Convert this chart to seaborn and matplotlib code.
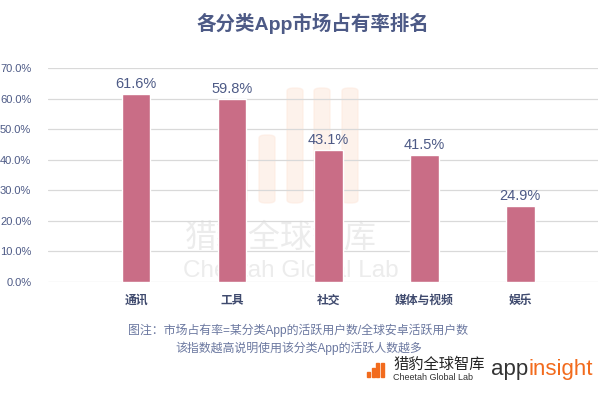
import matplotlib
matplotlib.use('Agg')
import matplotlib.pyplot as plt
import seaborn as sns
import pandas as pd
from matplotlib.patches import FancyBboxPatch

# data
categories = ['通讯', '工具', '社交', '媒体与视频', '娱乐']
share = [61.6, 59.8, 43.1, 41.5, 24.9]
yticks = [0, 10, 20, 30, 40, 50, 60, 70]

df = pd.DataFrame({'cat': categories, 'share': share})

sns.set_theme(style='white')
plt.rcParams['font.family'] = ['Liberation Sans', 'Noto Sans CJK SC', 'DejaVu Sans']

text_col = '#4d5a86'
bar_col = '#c96d86'

fig = plt.figure(figsize=(6, 3.93), dpi=100)
ax = fig.add_axes([0.08, 0.2824, 0.917, 0.5446])
ax.set_zorder(1)
ax.patch.set_alpha(0)

# faint watermark behind the bars
for x0, top in [(231, 160), (259, 135), (287, 88), (314, 88), (342, 88)]:
    fig.patches.append(FancyBboxPatch((x0 / 600, 1 - 203 / 393), 16 / 600, (203 - top) / 393,
                                      boxstyle='round,pad=0,rounding_size=0.012',
                                      mutation_aspect=0.65,
                                      transform=fig.transFigure, color='#fdeadf',
                                      alpha=0.6, zorder=-1))
fig.text(185 / 600, 1 - 239 / 393, '猎豹全球智库', fontsize=23, color='#ececec',
         va='center', ha='left', zorder=-1)
fig.text(183 / 600, 1 - 271 / 393, 'Cheetah Global Lab', fontsize=17.5, color='#ececec',
         va='center', ha='left', zorder=-1)

sns.barplot(data=df, x='cat', y='share', color=bar_col, width=0.3,
            saturation=1, ax=ax, zorder=3)
ax.bar_label(ax.containers[0], fmt='%.1f%%', padding=2, color=text_col, fontsize=10.5)

ax.set_xlim(-0.917, 4.8125)
ax.set_ylim(0, 70)
ax.set_yticks(yticks)
ax.set_yticklabels([f'{v:.1f}%' for v in yticks], color=text_col, fontsize=8)
ax.yaxis.grid(True, color='#d9d9d9', linewidth=0.9, zorder=0)
ax.tick_params(axis='y', length=0, pad=12)
ax.tick_params(axis='x', length=0, pad=9)
for lab in ax.get_xticklabels():
    lab.set_fontweight('bold')
    lab.set_fontsize(8.5)
    lab.set_color('#3f4a6e')
ax.set_xlabel('')
ax.set_ylabel('')
for s in ax.spines.values():
    s.set_visible(False)

fig.text(312.5 / 600, 1 - 23 / 393, '各分类App市场占有率排名', fontsize=14, fontweight='bold',
         color=text_col, ha='center', va='center')

note_col = '#6b78a0'
fig.text(128 / 600, 1 - 330 / 393, '图注：市场占有率=某分类App的活跃用户数/全球安卓活跃用户数',
         fontsize=8.6, color=note_col, va='center')
fig.text(175 / 600, 1 - 348 / 393, '该指数越高说明使用该分类App的活跃人数越多',
         fontsize=8.6, color=note_col, va='center')

# footer logo
for i, h in enumerate([5, 9, 14, 14]):
    fig.patches.append(FancyBboxPatch(((367 + i * 4.5) / 600, 1 - 377 / 393), 3 / 600, h / 393,
                                      boxstyle='square,pad=0', transform=fig.transFigure,
                                      color='#f26b1d'))
fig.text(393 / 600, 1 - 365 / 393, '猎豹全球智库', fontsize=11, color='#222222', va='center')
fig.text(393 / 600, 1 - 378 / 393, 'Cheetah Global Lab', fontsize=6.5, color='#333333', va='center')
app = fig.text(491 / 600, 1 - 370 / 393, 'app', fontsize=16, color='#333333', va='center')
ax.annotate('insight', xy=(1, 0.5), xycoords=app, va='center', ha='left',
            fontsize=16, color='#f26b1d', annotation_clip=False)

fig.savefig('out.png', dpi=100)
